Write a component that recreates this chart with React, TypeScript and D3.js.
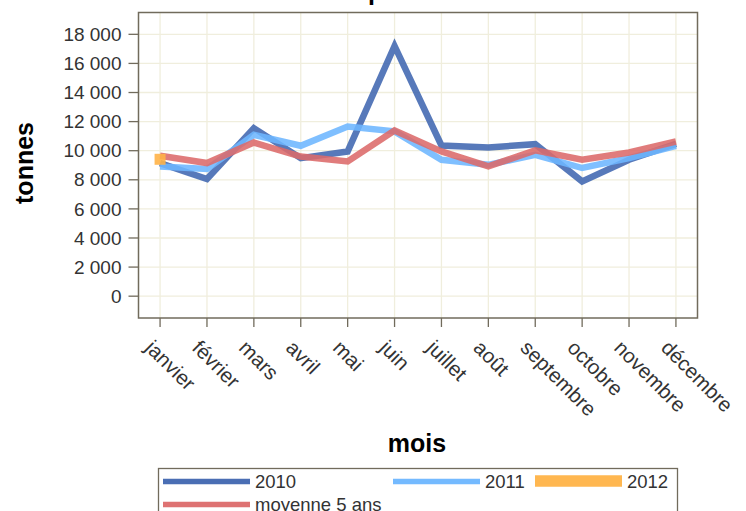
import React from "react";
import * as d3 from "d3";

const months = ["janvier","février","mars","avril","mai","juin","juillet","août","septembre","octobre","novembre","décembre"];
const s2010 = [9150, 8050, 11550, 9490, 9950, 17200, 10360, 10220, 10450, 7890, 9380, 10470];
const s2011 = [8920, 8740, 11090, 10340, 11660, 11330, 9380, 9030, 9720, 8810, 9490, 10340];
const s2012 = [9410];
const sMoy = [9650, 9150, 10560, 9600, 9260, 11390, 9950, 8920, 10020, 9380, 9880, 10630];
const yTicks = [0, 2000, 4000, 6000, 8000, 10000, 12000, 14000, 16000, 18000];
const seriesNames = ["2010", "2011", "2012", "moyenne 5 ans"];

const W = 746, H = 511;
const L = 138.5, R = 697.5, T = 12.5, B = 318;
const FONT = "'Liberation Sans', Arial, sans-serif";
const COL = { d2010: "#4066b0", d2011: "#6db6ff", d2012: "#ffb347", moy: "#dc6a6a" };
const GRID = "#f0eedd";
const FRAME = "#716b5c";

export default function App() {
  const x = d3.scalePoint<string>().domain(months).range([L, R]).padding(0.46);
  const y = d3.scaleLinear().domain([-1500, 19500]).range([B, T]);
  const line = d3.line<number>().x((_, i) => x(months[i])!).y((d) => y(d));
  const fmt = (v: number) => d3.format(",")(v).replace(/,/g, " ");

  const series = [
    { data: s2010, color: COL.d2010, w: 6.5 },
    { data: s2011, color: COL.d2011, w: 6.5 },
    { data: sMoy, color: COL.moy, w: 6.5 },
  ];
  const sq = 11;

  return (
    <svg width={W} height={H} style={{ position: "absolute", left: 0, top: 0, background: "#fff" }}>
      <text x={368} y={0} fontFamily={FONT} fontSize={25} fontWeight="bold" fill="#000">p</text>
      {/* grid */}
      {months.map((m) => (
        <line key={m} x1={x(m)} x2={x(m)} y1={T} y2={B} stroke={GRID} strokeWidth={1.3} />
      ))}
      {yTicks.map((t) => (
        <line key={t} x1={L} x2={R} y1={y(t)} y2={y(t)} stroke={GRID} strokeWidth={1.3} />
      ))}
      {/* series */}
      {series.map((s, i) => (
        <path key={i} d={line(s.data)!} fill="none" stroke={s.color} strokeWidth={s.w}
          strokeOpacity={0.88} strokeLinejoin="miter" />
      ))}
      {s2012.map((v, i) => (
        <rect key={i} x={x(months[i])! - sq / 2} y={y(v) - sq / 2} width={sq} height={sq}
          fill={COL.d2012} fillOpacity={0.9} />
      ))}
      {/* frame */}
      <rect x={L} y={T} width={R - L} height={B - T} fill="none" stroke={FRAME} strokeWidth={1.5} />
      {/* y axis */}
      {yTicks.map((t) => (
        <g key={t}>
          <line x1={L - 10} x2={L} y1={y(t)} y2={y(t)} stroke={FRAME} strokeWidth={1.3} />
          <text x={L - 17} y={y(t)} dy="0.35em" textAnchor="end" fontFamily={FONT} fontSize={19} fill="#333">{fmt(t)}</text>
        </g>
      ))}
      {/* x axis */}
      {months.map((m) => (
        <g key={m}>
          <line x1={x(m)} x2={x(m)} y1={B} y2={B + 9} stroke={FRAME} strokeWidth={1.3} />
          <text transform={`translate(${x(m)! - 16},${B + 31}) rotate(45)`} fontFamily={FONT} fontSize={20.5} fill="#333">{m}</text>
        </g>
      ))}
      <text x={417} y={452} textAnchor="middle" fontFamily={FONT} fontSize={25} fontWeight="bold" fill="#000">mois</text>
      <text transform={`translate(33,163) rotate(-90)`} textAnchor="middle" fontFamily={FONT} fontSize={25} fontWeight="bold" fill="#000">tonnes</text>
      {/* legend */}
      <rect x={158.5} y={468.5} width={519} height={60} fill="#fff" stroke={FRAME} strokeWidth={1.3} />
      {[
        { name: seriesNames[0], color: COL.d2010, w: 5.5, x0: 163, y0: 481.5 },
        { name: seriesNames[1], color: COL.d2011, w: 5.5, x0: 393, y0: 481.5 },
        { name: seriesNames[2], color: COL.d2012, w: 11.5, x0: 535, y0: 481 },
        { name: seriesNames[3], color: COL.moy, w: 5.5, x0: 163, y0: 504.5 },
      ].map((it) => (
        <g key={it.name}>
          <line x1={it.x0} x2={it.x0 + 87} y1={it.y0} y2={it.y0} stroke={it.color} strokeWidth={it.w} strokeOpacity={0.95} />
          <text x={it.x0 + 92} y={it.y0} dy="0.36em" fontFamily={FONT} fontSize={18.5} fill="#333">{it.name}</text>
        </g>
      ))}
    </svg>
  );
}
